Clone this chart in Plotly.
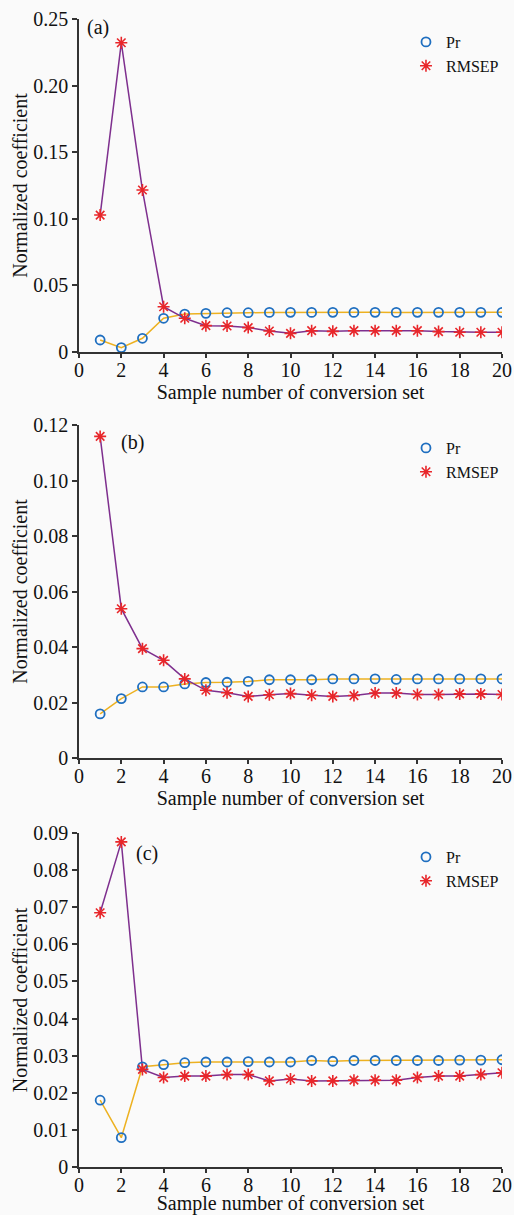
import plotly.graph_objects as go

x = list(range(1, 21))

pr_a = [0.009, 0.0033, 0.0103, 0.0253, 0.0285, 0.029, 0.0295, 0.0295, 0.0297, 0.0298,
        0.0297, 0.0298, 0.0297, 0.0298, 0.0297, 0.0298, 0.0298, 0.0298, 0.0298, 0.0298]
rmsep_a = [0.1028, 0.2322, 0.1216, 0.034, 0.0253, 0.0198, 0.0195, 0.0183, 0.0158, 0.014,
           0.016, 0.0155, 0.016, 0.016, 0.016, 0.016, 0.0153, 0.0148, 0.0148, 0.0148]

pr_b = [0.0159, 0.0214, 0.0256, 0.0256, 0.0267, 0.0272, 0.0273, 0.0276, 0.0282, 0.0282,
        0.0282, 0.0285, 0.0285, 0.0285, 0.0283, 0.0285, 0.0285, 0.0285, 0.0285, 0.0285]
rmsep_b = [0.1159, 0.0538, 0.0394, 0.0352, 0.0285, 0.0244, 0.0235, 0.0222, 0.0228, 0.0232,
           0.0226, 0.0222, 0.0225, 0.0234, 0.0234, 0.0229, 0.0229, 0.0231, 0.0231, 0.0229]

pr_c = [0.018, 0.0079, 0.027, 0.0276, 0.0281, 0.0283, 0.0283, 0.0284, 0.0283, 0.0283,
        0.0287, 0.0285, 0.0287, 0.0287, 0.0287, 0.0287, 0.0287, 0.0288, 0.0288, 0.0289]
rmsep_c = [0.0685, 0.0876, 0.0263, 0.0241, 0.0245, 0.0245, 0.0249, 0.0249, 0.0232, 0.0237,
           0.0232, 0.0232, 0.0234, 0.0234, 0.0234, 0.0241, 0.0245, 0.0245, 0.0249, 0.0254]

panel_labels = ["(a)", "(b)", "(c)"]
y_ticks = [
    [0, 0.05, 0.10, 0.15, 0.20, 0.25],
    [0, 0.02, 0.04, 0.06, 0.08, 0.10, 0.12],
    [0, 0.01, 0.02, 0.03, 0.04, 0.05, 0.06, 0.07, 0.08, 0.09],
]
y_ticktext = [
    ["0", "0.05", "0.10", "0.15", "0.20", "0.25"],
    ["0", "0.02", "0.04", "0.06", "0.08", "0.10", "0.12"],
    ["0", "0.01", "0.02", "0.03", "0.04", "0.05", "0.06", "0.07", "0.08", "0.09"],
]
x_ticks = list(range(0, 21, 2))

FONT = "Liberation Serif"
PR_LINE = "#EDB120"
PR_MARK = "#1f6fc0"
RM_LINE = "#7E2F8E"
RM_MARK = "#e8262a"
AX = "#333333"

W, H = 514, 1215
mt, mb, ml, mr = 19, 48, 79, 12
ph = H - mt - mb
panels_px = [(19, 352), (425, 758), (833, 1167)]
domains = [[(H - mb - b) / ph, (H - mb - t) / ph] for (t, b) in panels_px]
domains = [[max(0, d0), min(1, d1)] for d0, d1 in domains]

data = [(pr_a, rmsep_a), (pr_b, rmsep_b), (pr_c, rmsep_c)]
legend_names = ["legend", "legend2", "legend3"]

fig = go.Figure()
layout = {}
for i, (pr, rm) in enumerate(data):
    xa = "x" if i == 0 else f"x{i+1}"
    ya = "y" if i == 0 else f"y{i+1}"
    lg = legend_names[i]
    fig.add_trace(go.Scatter(x=x, y=pr, mode="lines", line=dict(color=PR_LINE, width=1.5),
                             xaxis=xa, yaxis=ya, showlegend=False, hoverinfo="skip"))
    fig.add_trace(go.Scatter(x=x, y=rm, mode="lines", line=dict(color=RM_LINE, width=1.5),
                             xaxis=xa, yaxis=ya, showlegend=False, hoverinfo="skip"))
    fig.add_trace(go.Scatter(x=x, y=pr, mode="markers", name="Pr",
                             marker=dict(symbol="circle-open", size=9, color=PR_MARK,
                                         line=dict(width=1.8, color=PR_MARK)),
                             xaxis=xa, yaxis=ya, legend=lg))
    fig.add_trace(go.Scatter(x=x, y=rm, mode="markers", name="RMSEP",
                             marker=dict(symbol="asterisk-open", size=10, color=RM_MARK,
                                         line=dict(width=1.6, color=RM_MARK)),
                             xaxis=xa, yaxis=ya, legend=lg))
    xkey = "xaxis" if i == 0 else f"xaxis{i+1}"
    ykey = "yaxis" if i == 0 else f"yaxis{i+1}"
    layout[xkey] = dict(
        domain=[0, 1], anchor=ya, range=[0, 20], tickvals=x_ticks,
        ticks="outside", ticklen=4, tickwidth=1.5, tickcolor=AX, ticklabelstandoff=-5,
        showline=True, linecolor=AX, linewidth=1.5, showgrid=False, zeroline=False,
        tickfont=dict(family=FONT, size=20, color="#111"),
        title=dict(text="Sample number of conversion set", standoff=4,
                   font=dict(family=FONT, size=20, color="#111")),
    )
    layout[ykey] = dict(
        domain=domains[i], anchor=xa, range=[0, y_ticks[i][-1]],
        tickvals=y_ticks[i], ticktext=y_ticktext[i],
        ticks="outside", ticklen=5, tickwidth=1.5, tickcolor=AX,
        showline=True, linecolor=AX, linewidth=1.5, showgrid=False, zeroline=False,
        tickfont=dict(family=FONT, size=20, color="#111"),
        title=dict(text="Normalized coefficient", standoff=0,
                   font=dict(family=FONT, size=20, color="#111")),
    )
    layout[lg] = dict(
        x=0.773, xanchor="left", yanchor="top",
        bgcolor="rgba(0,0,0,0)", borderwidth=0,
        font=dict(family=FONT, size=16, color="#111"), tracegroupgap=0,
    )

leg_top_px = [25, 431, 840]
for i, lg in enumerate(legend_names):
    layout[lg]["y"] = (H - mb - leg_top_px[i]) / ph

annotations = []
label_px = [(98, 27), (132, 443), (147, 853)]
for i, lab in enumerate(panel_labels):
    px, py = label_px[i]
    annotations.append(dict(
        text=lab, x=(px - ml) / (W - ml - mr), y=(H - mb - py) / ph,
        xref="paper", yref="paper", showarrow=False, xanchor="center", yanchor="middle",
        font=dict(family=FONT, size=20, color="#111"),
    ))

fig.update_layout(
    width=W, height=H,
    margin=dict(l=ml, r=mr, t=mt, b=mb, autoexpand=False),
    paper_bgcolor="#fafafa", plot_bgcolor="#fafafa",
    annotations=annotations,
    **layout,
)

fig.write_html("out.html", config={"displayModeBar": False},
               post_script="document.body.style.margin='0';document.body.style.overflow='hidden';")
